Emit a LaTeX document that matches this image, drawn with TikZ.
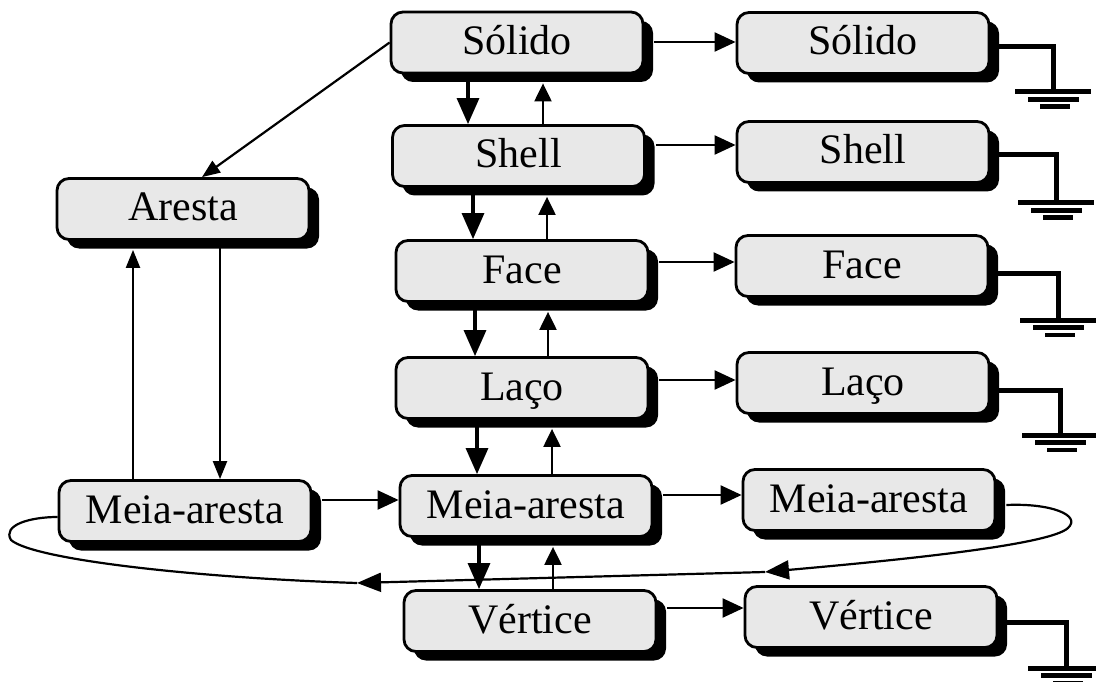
\documentclass[tikz,border=0pt]{standalone}
\usepackage{fontspec}
\setmainfont{Liberation Serif}
\usetikzlibrary{arrows.meta,shadows}
\definecolor{boxfill}{gray}{0.91}
\begin{document}
\begin{tikzpicture}[x=1pt,y=-1pt,
  box/.style={draw, line width=2.8pt, rounded corners=12pt, fill=boxfill,
    minimum width=252pt, minimum height=61pt, inner sep=0pt,
    text height=30pt, text depth=6pt, font=\fontsize{42}{48}\selectfont,
    drop shadow={shadow xshift=10pt, shadow yshift=-9pt, opacity=1, fill=black}},
  link/.style={line width=2.2pt},
  hto/.style={link, shorten <=10pt, -{Triangle[length=21pt,width=19pt]}},
  dto/.style={line width=3.2pt, -{Triangle[length=26pt,width=22pt]}},
  uto/.style={link, shorten >=9pt, -{Triangle[length=18pt,width=17pt]}},
  lto/.style={link, -{Triangle[length=18pt,width=14pt]}},
  loopto/.style={link, -{Triangle[length=24pt,width=19pt]}},
  gnd/.style={line width=5pt},
  earth/.pic={
    \fill (-38,-2.5) rectangle (38,2.5);
    \fill (-25,5) rectangle (26,10);
    \fill (-13,12.5) rectangle (17,17);
  }
]
\useasboundingbox (0,0) rectangle (1096,682);

% topology records, inner column
\node[box] (sL)  at (517,42.5) {Sólido};
\node[box] (shL) at (518.5,156) {Shell};
\node[box] (fL)  at (522,271) {Face};
\node[box] (lL)  at (522,388) {Laço};
\node[box] (mM)  at (526,506) {Meia-aresta};
\node[box] (vM)  at (530,621) {Vértice};

% outer column
\node[box] (sR)  at (863,43)  {Sólido};
\node[box] (shR) at (863,152) {Shell};
\node[box] (fR)  at (862,266) {Face};
\node[box] (lR)  at (863,383) {Laço};
\node[box] (rMA) at (869,500) {Meia-aresta};
\node[box] (vR)  at (871,617) {Vértice};

% edge records
\node[box] (ar)  at (183,209) {Aresta};
\node[box] (lMA) at (185,511) {Meia-aresta};

% downward links
\draw[dto] (sL.south -| 468,0)  -- (shL.north -| 468,0);
\draw[dto] (shL.south -| 473,0) -- (fL.north -| 473,0);
\draw[dto] (fL.south -| 475,0)  -- (lL.north -| 475,0);
\draw[dto] (lL.south -| 477,0)  -- (mM.north -| 477,0);
\draw[dto] (mM.south -| 479,0)  -- (vM.north -| 479,0);

% upward links
\draw[uto] (shL.north -| 543,0) -- (sL.south -| 543,0);
\draw[uto] (fL.north -| 547,0)  -- (shL.south -| 547,0);
\draw[uto] (lL.north -| 548,0)  -- (fL.south -| 548,0);
\draw[uto] (mM.north -| 552,0)  -- (lL.south -| 552,0);
\draw[uto] (vM.north -| 553,0)  -- (mM.south -| 553,0);

% links to the outer column
\draw[hto] (sL.east |- 0,42)   -- (sR.west |- 0,42);
\draw[hto] (shL.east |- 0,145) -- (shR.west |- 0,145);
\draw[hto] (fL.east |- 0,262)  -- (fR.west |- 0,262);
\draw[hto] (lL.east |- 0,380)  -- (lR.west |- 0,380);
\draw[hto] (mM.east |- 0,495)  -- (rMA.west |- 0,495);
\draw[hto] (vM.east |- 0,608)  -- (vR.west |- 0,608);

% edge links
\draw[lto] (sL.west) -- (ar.north -| 202,0);
\draw[lto, shorten >=9pt] (lMA.north -| 133,0) -- (ar.south -| 133,0);
\draw[lto] (ar.south -| 220,0) -- (lMA.north -| 220,0);
\draw[hto] (lMA.east |- 0,500) -- (mM.west |- 0,500);

% loop from the outer half-edge back to the left one
\coordinate (t1) at (765,572);
\coordinate (t2) at (357,583);
\draw[loopto] ([xshift=10pt,yshift=-5pt]rMA.east)
  .. controls (1050,503) and (1082,515) .. (1068,528)
  .. controls (1050,545) and (900,560) .. (t1);
\draw[loopto] (t1) -- (t2);
\draw[link] (t2) .. controls (200,578) and (34,560) .. (11,540)
  .. controls (2,525) and (30,517) .. ([yshift=-6pt]lMA.west);

% ground terminals
\coordinate (e1) at (1053,92);
\coordinate (e2) at (1056,203);
\coordinate (e3) at (1058,320);
\coordinate (e4) at (1060,435);
\coordinate (e5) at (1066,668);
\draw[gnd] (sR.east |- 0,47)   -| (e1);
\draw[gnd] (shR.east |- 0,155) -| (e2);
\draw[gnd] (fR.east |- 0,273)  -| (e3);
\draw[gnd] (lR.east |- 0,390)  -| (e4);
\draw[gnd] (vR.east |- 0,622)  -| (e5);
\pic at (e1) {earth};
\pic at (e2) {earth};
\pic at (e3) {earth};
\pic at (e4) {earth};
\pic at (e5) {earth};
\end{tikzpicture}
\end{document}
